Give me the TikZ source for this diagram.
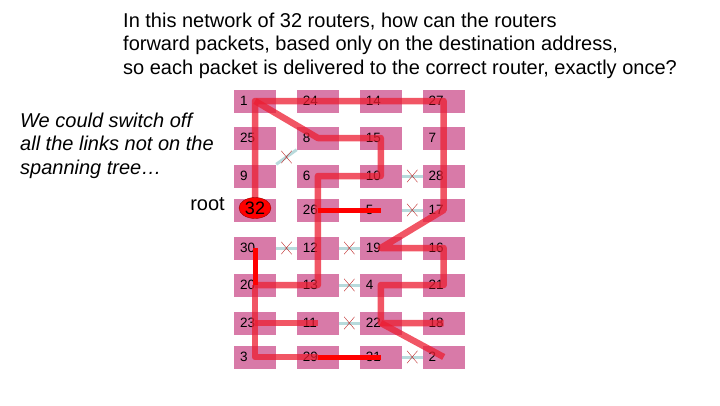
\documentclass[tikz,border=0pt]{standalone}
\usepackage{fontspec}
\setmainfont{Liberation Sans}
\usepackage{tikz}
\usetikzlibrary{positioning, shapes.geometric, shapes.misc}
\usepackage{xcolor}
\definecolor{routerpink}{RGB}{216,122,168}
\definecolor{linkgray}{RGB}{184,218,220}
\definecolor{cutred}{RGB}{190,40,40}
\definecolor{treered}{RGB}{236,30,50}

\begin{document}
\begin{tikzpicture}[
    x=1pt, y=-1pt,
    node distance=14pt and 20.5pt,
    router/.style={rectangle, fill=routerpink, minimum height=23pt,
                   text width=30pt, inner xsep=6pt, inner ysep=0pt, align=left,
                   font=\fontsize{13.5}{13.5}\selectfont},
    link/.style={linkgray, line width=3pt},
    cut/.style={cross out, draw=cutred, thin, minimum width=10pt, minimum height=12pt, inner sep=0pt},
    tree/.style={treered, line width=6.5pt, opacity=0.75, line join=round},
    hot/.style={red, line width=5pt},
]
    \useasboundingbox (0,0) rectangle (720,405);

    % Question and remarks
    \node[anchor=north west, inner sep=0pt, align=left, font=\fontsize{20}{23.2}\selectfont] (question) at (123,13)
        {In this network of 32 routers, how can the routers\\
         forward packets, based only on the destination address,\\
         so each packet is delivered to the correct router, exactly once?};
    \node[anchor=north west, inner sep=0pt, align=left, font=\fontsize{20}{23.2}\selectfont\itshape] (remark) at (20,113)
        {We could switch off\\all the links not on the\\spanning tree\dots};

    % Routers
    \node[router] (r1)  at (255,101) {1};
    \node[router, right=of r1]  (r24) {24};
    \node[router, right=of r24] (r14) {14};
    \node[router, right=of r14] (r27) {27};

    \node[router] (r25) at (255,138) {25};
    \node[router, right=of r25] (r8)  {8};
    \node[router, right=of r8]  (r15) {15};
    \node[router, right=of r15] (r7)  {7};

    \node[router] (r9)  at (255,176) {9};
    \node[router, right=of r9]  (r6)  {6};
    \node[router, right=of r6]  (r10) {10};
    \node[router, right=of r10] (r28) {28};

    \node[router] (r32) at (255,210) {};
    \node[router, right=of r32] (r26) {26};
    \node[router, right=of r26] (r5)  {5};
    \node[router, right=of r5]  (r17) {17};

    \node[router] (r30) at (255,248) {30};
    \node[router, right=of r30] (r12) {12};
    \node[router, right=of r12] (r19) {19};
    \node[router, right=of r19] (r16) {16};

    \node[router] (r20) at (255,285) {20};
    \node[router, right=of r20] (r13) {13};
    \node[router, right=of r13] (r4)  {4};
    \node[router, right=of r4]  (r21) {21};

    \node[router] (r23) at (255,323) {23};
    \node[router, right=of r23] (r11) {11};
    \node[router, right=of r11] (r22) {22};
    \node[router, right=of r22] (r18) {18};

    \node[router] (r3)  at (255,357) {3};
    \node[router, right=of r3]  (r29) {29};
    \node[router, right=of r29] (r31) {31};
    \node[router, right=of r31] (r2)  {2};

    \node[anchor=base east, inner sep=0pt, font=\fontsize{20}{20}\selectfont] (rootlabel) at (225,210) {root};

    % Links switched off
    \draw[link] (r9.north east) -- (r8.south west) node[pos=0.5, cut] {};
    \draw[link] (r10.east) -- (r28.west) node[pos=0.5, cut] {};
    \draw[link] (r5.east) -- (r17.west) node[pos=0.5, cut] {};
    \draw[link] (r30.east) -- (r12.west) node[pos=0.5, cut] {};
    \draw[link] (r12.east) -- (r19.west) node[pos=0.5, cut] {};
    \draw[link] (r13.east) -- (r4.west) node[pos=0.5, cut] {};
    \draw[link] (r11.east) -- (r22.west) node[pos=0.5, cut] {};
    \draw[link] (r31.east) -- (r2.west) node[pos=0.5, cut] {};

    % Spanning tree
    \draw[tree] (r32.center) -- (r1.center) -- (r27.center) -- (r17.center) -- (r19.center) -- (r16.center)
        -- (r21.center) -- (r4.center) -- (r22.center) -- (r18.center);
    \draw[tree] (r22.center) -- (r2.center);
    \draw[tree] (r1.center) -- (r8.center) -- (r15.center) -- (r10.center) -- (r6.center) -- (r13.center) -- (r20.center);
    \draw[tree] (r20.center) -- (r3.center) -- (r29.center);
    \draw[tree] (r23.center) -- (r11.center);
    \draw[hot] (r26.center) -- (r5.center);
    \draw[hot] (r30.center) -- (r20.center);
    \draw[hot] (r29.center) -- (r31.center);

    % Root
    \node[ellipse, fill=red, draw=red!60!black, minimum width=32pt, minimum height=21pt, inner sep=0pt,
          font=\fontsize{18}{18}\selectfont] (root) at ([yshift=2pt]r32.center) {32};
\end{tikzpicture}
\end{document}
